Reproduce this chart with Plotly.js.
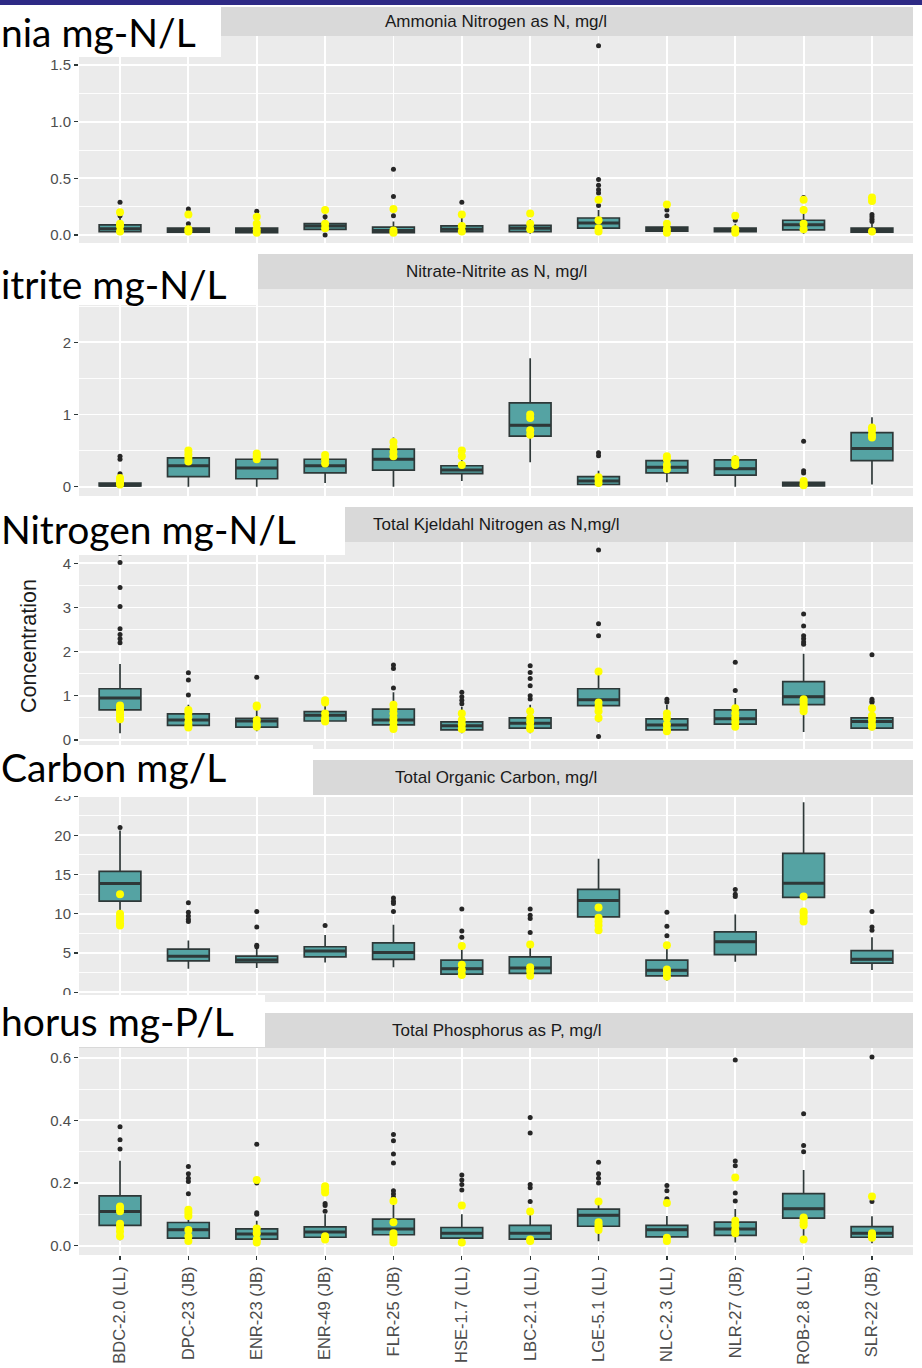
<!DOCTYPE html>
<html><head><meta charset="utf-8">
<script src="https://cdn.plot.ly/plotly-3.0.1.min.js"></script>
<style>html,body{margin:0;padding:0;background:#fff}#chart{width:922px;height:1368px}</style>
</head><body><div id="chart"></div>
<script>
const sites = ["BDC-2.0 (LL)","DPC-23 (JB)","ENR-23 (JB)","ENR-49 (JB)","FLR-25 (JB)","HSE-1.7 (LL)","LBC-2.1 (LL)","LGE-5.1 (LL)","NLC-2.3 (LL)","NLR-27 (JB)","ROB-2.8 (LL)","SLR-22 (JB)"];
const stripTitles = ["Ammonia Nitrogen as N, mg/l","Nitrate-Nitrite as N, mg/l","Total Kjeldahl Nitrogen as N,mg/l","Total Organic Carbon, mg/l","Total Phosphorus as P, mg/l"];
const bigLabels = ["nia mg-N/L","itrite mg-N/L","Nitrogen mg-N/L","Carbon mg/L","horus mg-P/L"];
const yTitle = "Concentration";

// Ammonia Nitrogen
const nh3_q1  = [0.03,0.025,0.02,0.05,0.02,0.03,0.03,0.06,0.035,0.03,0.045,0.025];
const nh3_med = [0.055,0.04,0.04,0.08,0.04,0.05,0.06,0.105,0.05,0.045,0.09,0.04];
const nh3_q3  = [0.09,0.06,0.06,0.10,0.07,0.08,0.085,0.15,0.07,0.06,0.13,0.06];
const nh3_lo  = [0.01,0.01,0.01,0.03,0.01,0.01,0.01,0.01,0.01,0.01,0.01,0.01];
const nh3_hi  = [0.15,0.10,0.12,0.14,0.12,0.15,0.14,0.22,0.12,0.10,0.25,0.10];
const nh3_out = [[0.29,0.17],[0.23,0.10],[0.21,0.15],[0.16,0.0],[0.58,0.34,0.17],[0.29],[0.18],[1.67,0.49,0.44,0.40,0.37,0.26],[0.22,0.17],[0.13],[0.33],[0.18,0.16,0.14,0.12]];
const nh3_pts = [[0.20,0.10,0.08,0.03],[0.18,0.05,0.03],[0.16,0.10,0.05,0.02],[0.22,0.10,0.06],[0.23,0.04,0.02],[0.18,0.08,0.03],[0.19,0.10,0.05],[0.31,0.13,0.06,0.03],[0.27,0.10,0.05,0.02],[0.17,0.05,0.02],[0.31,0.22,0.10,0.05],[0.33,0.30,0.03]];

// Nitrate-Nitrite
const no3_q1  = [0.01,0.14,0.11,0.19,0.23,0.18,0.70,0.03,0.19,0.16,0.01,0.36];
const no3_med = [0.02,0.29,0.26,0.29,0.38,0.23,0.85,0.08,0.27,0.25,0.03,0.53];
const no3_q3  = [0.05,0.40,0.38,0.38,0.52,0.29,1.16,0.14,0.36,0.37,0.06,0.75];
const no3_lo  = [0.0,0.0,0.0,0.05,0.0,0.08,0.34,0.0,0.06,0.0,0.0,0.03];
const no3_hi  = [0.10,0.50,0.48,0.46,0.68,0.40,1.78,0.22,0.45,0.44,0.10,0.96];
const no3_out = [[0.42,0.38,0.18],[],[],[],[],[],[],[0.47,0.43],[],[],[0.63,0.22,0.19],[]];
const no3_pts = [[0.12,0.08,0.05,0.03],[0.50,0.45,0.40,0.35],[0.46,0.42,0.38],[0.44,0.38,0.32],[0.62,0.55,0.48,0.42],[0.50,0.42,0.30],[1.00,0.95,0.78,0.72],[0.13,0.10,0.05],[0.42,0.38,0.30,0.24],[0.38,0.33,0.30],[0.08,0.04,0.02],[0.82,0.78,0.72,0.68]];

// Total Kjeldahl Nitrogen
const tkn_q1  = [0.68,0.33,0.29,0.43,0.34,0.23,0.27,0.78,0.23,0.36,0.80,0.27];
const tkn_med = [0.95,0.45,0.43,0.56,0.45,0.32,0.38,0.91,0.34,0.48,0.98,0.42];
const tkn_q3  = [1.16,0.59,0.49,0.64,0.70,0.41,0.50,1.16,0.48,0.68,1.32,0.50];
const tkn_lo  = [0.15,0.25,0.20,0.38,0.25,0.15,0.15,0.40,0.15,0.25,0.18,0.22];
const tkn_hi  = [1.72,0.80,0.70,0.92,1.08,0.75,0.80,1.52,0.80,0.95,1.95,0.75];
const tkn_out = [[4.23,4.02,3.45,3.02,2.52,2.39,2.29,2.20],[1.52,1.36,1.02],[1.42],[],[1.70,1.62,1.18],[1.08,0.98,0.90,0.82],[1.68,1.53,1.39,1.23,1.00,0.93],[4.30,2.63,2.36,0.08],[0.92,0.86],[1.76,1.12],[2.85,2.58,2.36,2.29,2.22,2.17],[1.93,0.92,0.88,0.85]];
const tkn_pts = [[0.78,0.72,0.65,0.58,0.52,0.47],[0.68,0.62,0.52,0.40,0.32,0.28],[0.78,0.75,0.45,0.35,0.30],[0.90,0.85,0.60,0.50,0.45,0.42],[0.80,0.70,0.60,0.50,0.40,0.30,0.25],[0.60,0.45,0.35,0.25],[0.65,0.50,0.40,0.30,0.25],[1.55,0.85,0.75,0.65,0.50],[0.60,0.50,0.35,0.25,0.20],[0.72,0.60,0.50,0.40,0.30],[0.92,0.85,0.78,0.72,0.65],[0.72,0.55,0.45,0.35,0.30]];

// Total Organic Carbon
const toc_q1  = [11.6,4.0,3.8,4.5,4.2,2.3,2.4,9.6,2.1,4.8,12.1,3.7];
const toc_med = [13.85,4.6,4.1,5.25,5.05,3.0,3.1,11.7,2.8,6.45,13.9,4.2];
const toc_q3  = [15.4,5.5,4.6,5.8,6.3,4.1,4.5,13.1,4.1,7.7,17.7,5.3];
const toc_lo  = [8.3,3.0,3.1,3.8,3.2,1.8,1.8,7.8,1.5,3.9,11.8,2.85];
const toc_hi  = [20.6,6.6,5.5,7.3,8.6,5.5,6.0,17.0,6.0,9.9,24.2,7.0];
const toc_out = [[21.0],[11.4,10.2,9.7,9.3,9.0],[10.3,8.3,6.0,5.8],[8.5],[12.0,11.6,11.3,10.3],[10.6,7.8,7.0],[10.6,9.8,9.4,7.6],[],[10.2,8.4,7.2],[13.1,12.5,12.2],[],[10.3,8.3,7.9]];
const toc_pts = [[12.5,10.0,9.6,9.2,8.8,8.5],[],[],[],[],[5.9,3.5,2.8,2.2],[6.1,3.2,2.7,2.1],[10.8,9.5,9.0,8.5,7.9],[6.0,2.9,2.5,2.0],[],[12.2,10.3,10.0,9.5,9.0],[]];

// Total Phosphorus
const tp_q1  = [0.065,0.024,0.021,0.027,0.035,0.024,0.021,0.062,0.028,0.033,0.088,0.027];
const tp_med = [0.109,0.051,0.037,0.044,0.053,0.040,0.040,0.097,0.051,0.053,0.118,0.040];
const tp_q3  = [0.159,0.074,0.054,0.060,0.085,0.058,0.065,0.117,0.065,0.075,0.166,0.061];
const tp_lo  = [0.017,0.008,0.005,0.010,0.008,0.005,0.005,0.014,0.008,0.010,0.020,0.008];
const tp_hi  = [0.271,0.120,0.080,0.100,0.130,0.100,0.099,0.141,0.095,0.117,0.242,0.094];
const tp_out = [[0.38,0.338,0.309],[0.253,0.23,0.215,0.205,0.166],[0.324,0.20,0.105,0.10],[0.135,0.128,0.11],[0.355,0.335,0.293,0.264,0.175,0.165,0.155],[0.226,0.21,0.195,0.178],[0.409,0.36,0.195,0.185,0.141],[0.266,0.23,0.215,0.20],[0.192,0.175,0.15,0.14],[0.593,0.27,0.255,0.168,0.143],[0.421,0.32,0.30],[0.602,0.141]];
const tp_pts = [[0.125,0.12,0.11,0.07,0.06,0.045,0.03],[0.115,0.105,0.095,0.05,0.03,0.015],[0.21,0.055,0.04,0.02,0.01],[0.19,0.18,0.17,0.03,0.025,0.02],[0.143,0.075,0.04,0.03,0.02,0.01],[0.128,0.01],[0.109,0.02,0.015],[0.141,0.075,0.065,0.06,0.05],[0.136,0.025,0.015],[0.218,0.08,0.065,0.05,0.04],[0.09,0.085,0.075,0.065,0.02],[0.157,0.04,0.035,0.03,0.025]];

const panels = [
  {q1:nh3_q1,med:nh3_med,q3:nh3_q3,lo:nh3_lo,hi:nh3_hi,out:nh3_out,pts:nh3_pts},
  {q1:no3_q1,med:no3_med,q3:no3_q3,lo:no3_lo,hi:no3_hi,out:no3_out,pts:no3_pts},
  {q1:tkn_q1,med:tkn_med,q3:tkn_q3,lo:tkn_lo,hi:tkn_hi,out:tkn_out,pts:tkn_pts},
  {q1:toc_q1,med:toc_med,q3:toc_q3,lo:toc_lo,hi:toc_hi,out:toc_out,pts:toc_pts},
  {q1:tp_q1,med:tp_med,q3:tp_q3,lo:tp_lo,hi:tp_hi,out:tp_out,pts:tp_pts}
];

// ---- geometry / styles ----
const W = 922, H = 1368;
const px = v => v / W, py = v => 1 - v / H;
const xL = 79, xR = 913;
const plotTop = [36, 289, 542, 795, 1048], plotH = 207, stripH = 35;
const yRanges = [[-0.0706,1.756],[-0.129,2.738],[-0.204,4.483],[-1.24,25.13],[-0.0297,0.631]];
const dticks = [0.5,1,1,5,0.2];
const minorD = [0.25,0.5,0.5,2.5,0.1];
const tfmt = ['.1f','d','d','d','.1f'];
const labelBoxes = [[0,5,221,57],[0,250,258,305],[0,500,345,555],[0,745,313,796],[0,995,265,1047]];
const labelCenters = [32, 284, 529, 767, 1021];
const FILL = '#55a3a3', EDGE = '#2e3838';
const tickFont = {family:'Liberation Sans, Arial, sans-serif', size:15, color:'#4d4d4d'};

function flat(lists) {
  const xs = [], ys = [];
  lists.forEach((l, i) => l.forEach(v => { xs.push(sites[i]); ys.push(v); }));
  return {xs, ys};
}

const data = [];
const layout = {
  width: W, height: H,
  margin: {l:0, r:0, t:0, b:0},
  paper_bgcolor: '#ffffff', plot_bgcolor: '#ebebeb',
  showlegend: false,
  shapes: [], annotations: []
};

panels.forEach((p, k) => {
  const n = k + 1, sx = n === 1 ? '' : String(n);
  const xa = 'x' + sx, ya = 'y' + sx;
  data.push({
    type: 'box', xaxis: xa, yaxis: ya, x: sites,
    q1: p.q1, median: p.med, q3: p.q3, lowerfence: p.lo, upperfence: p.hi,
    boxpoints: false, width: 0.61, whiskerwidth: 0,
    fillcolor: FILL, line: {color: EDGE, width: 1.7}, hoverinfo: 'skip'
  });
  data.push({
    type: 'scatter', mode: 'markers', xaxis: xa, yaxis: ya, x: sites, y: p.med,
    marker: {symbol: 'line-ew', size: 29.5, line: {color: EDGE, width: 3}}, hoverinfo: 'skip'
  });
  const o = flat(p.out);
  data.push({
    type: 'scatter', mode: 'markers', xaxis: xa, yaxis: ya, x: o.xs, y: o.ys,
    marker: {color: '#262626', size: 5}, hoverinfo: 'skip'
  });
  const y = flat(p.pts);
  data.push({
    type: 'scatter', mode: 'markers', xaxis: xa, yaxis: ya, x: y.xs, y: y.ys,
    marker: {color: '#ffff00', size: 8}, hoverinfo: 'skip'
  });

  const top = plotTop[k], bot = top + plotH;
  layout['xaxis' + sx] = {
    domain: [px(xL), px(xR)], anchor: ya, type: 'category',
    categoryorder: 'array', categoryarray: sites, range: [-0.6, 11.6],
    showgrid: true, gridcolor: '#ffffff', gridwidth: 1.8, zeroline: false, showline: false,
    showticklabels: n === 5, ticks: n === 5 ? 'outside' : '', ticklen: 4, tickwidth: 1.2, tickcolor: EDGE,
    tickangle: -90, tickfont: {family:'Liberation Sans, Arial, sans-serif', size:16.5, color:'#4d4d4d'},
    fixedrange: true
  };
  layout['yaxis' + sx] = {
    domain: [py(bot), py(top)], anchor: xa, range: yRanges[k],
    tickmode: 'linear', tick0: 0, dtick: dticks[k], tickformat: tfmt[k],
    showgrid: true, gridcolor: '#ffffff', gridwidth: 1.8, zeroline: false, showline: false,
    minor: {tick0: 0, dtick: minorD[k], showgrid: true, gridcolor: '#ffffff', gridwidth: 0.9, ticks: ''},
    ticks: 'outside', ticklen: 4, tickwidth: 1.2, tickcolor: EDGE, tickfont: tickFont,
    fixedrange: true
  };
  // strip
  const sTop = n === 1 ? 7 : top - stripH;
  layout.shapes.push({type:'rect', xref:'paper', yref:'paper', x0:px(xL), x1:px(xR), y0:py(top), y1:py(sTop),
    fillcolor:'#d9d9d9', line:{width:0}, layer:'above'});
  layout.annotations.push({xref:'paper', yref:'paper', x:px((xL+xR)/2), y:py((sTop+top)/2),
    text: stripTitles[k], showarrow:false, xanchor:'center', yanchor:'middle',
    font:{family:'Liberation Sans, Arial, sans-serif', size:17, color:'#1a1a1a'}});
  // white label box
  const b = labelBoxes[k];
  layout.shapes.push({type:'rect', xref:'paper', yref:'paper', x0:px(b[0]), x1:px(b[2]), y0:py(b[3]), y1:py(b[1]),
    fillcolor:'#ffffff', line:{width:0}, layer:'above'});
  layout.annotations.push({xref:'paper', yref:'paper', x:0, y:py(labelCenters[k]),
    text: bigLabels[k], showarrow:false, xanchor:'left', yanchor:'middle', borderpad:0,
    font:{family:'Lato, sans-serif', size:39, color:'#000000'}});
});

// top bar
layout.shapes.push({type:'rect', xref:'paper', yref:'paper', x0:0, x1:1, y0:py(5), y1:1,
  fillcolor:'#2e2a85', line:{width:0}, layer:'above'});
// y title
layout.annotations.push({xref:'paper', yref:'paper', x:px(29), y:py(646), text: yTitle, textangle:-90,
  showarrow:false, xanchor:'center', yanchor:'middle',
  font:{family:'Liberation Sans, Arial, sans-serif', size:21.5, color:'#1a1a1a'}});

Plotly.newPlot('chart', data, layout, {staticPlot: true, displayModeBar: false});
</script>
</body></html>
